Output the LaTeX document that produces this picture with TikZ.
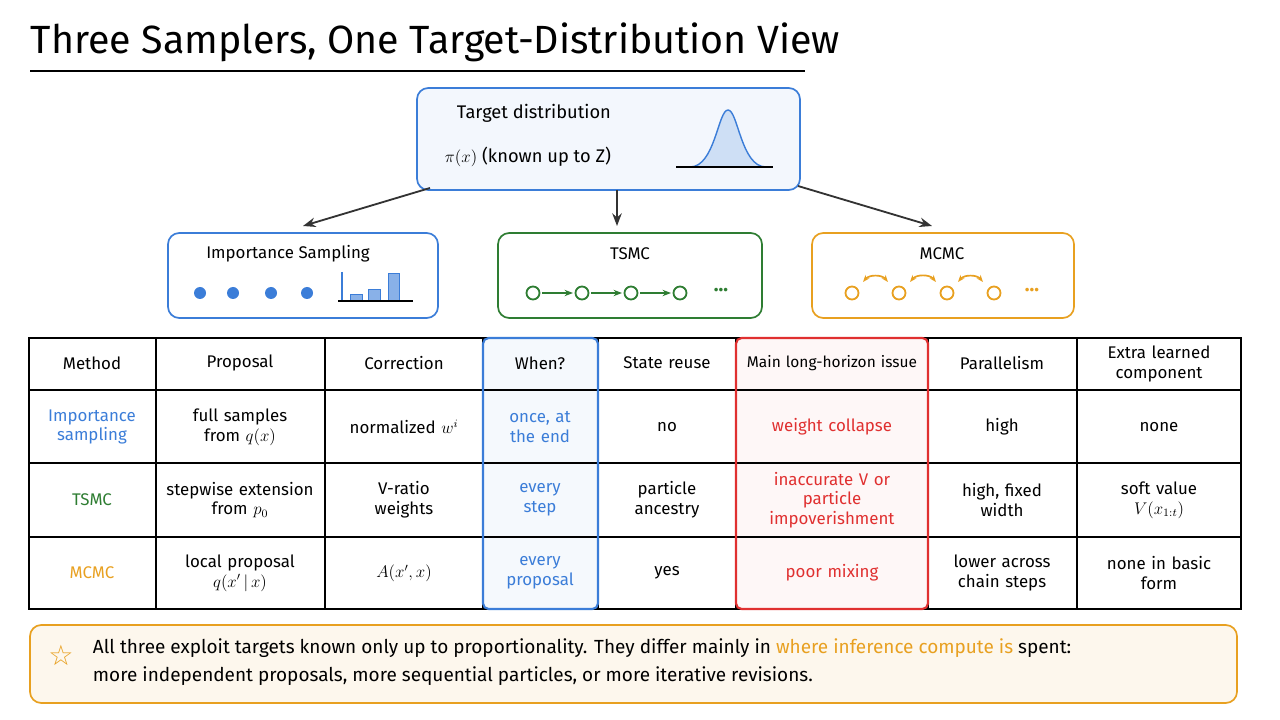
\documentclass[tikz,border=0pt]{standalone}
\usepackage{fontspec}
\setmainfont{Fira Sans}
\newfontfamily\symfont{DejaVu Sans}
\newfontfamily\titlefont{Fira Sans Medium}
\usetikzlibrary{arrows.meta,positioning}
\definecolor{isblue}{HTML}{3B7DD8}
\definecolor{tsgreen}{HTML}{2E7D32}
\definecolor{mcorange}{HTML}{E8A020}
\definecolor{issred}{HTML}{E03030}
\tikzset{
  box/.style={draw, rounded corners=8pt, line width=1.2pt},
  cell/.style={font=\fontsize{12}{14}\selectfont, align=center, text width=3.6cm},
  arr/.style={-{Stealth[length=9pt]}, line width=1.3pt, black!80},
}
\begin{document}
\begin{tikzpicture}[x=0.025cm,y=-0.025cm]
\useasboundingbox (0,0) rectangle (1280,720);

% Title
\node[anchor=west, font=\fontsize{28}{30}\selectfont] (title) at (26,42) {Three Samplers, One Target-Distribution View};
\draw[line width=1.8pt] (30,71) -- (805,71);

% Target box
\draw[box, draw=isblue, fill=isblue!6] (417,88) rectangle (800,190);
\node[anchor=west, font=\fontsize{13}{15}\selectfont] (tgt) at (452,113) {Target distribution};
\node[anchor=west, font=\fontsize{13}{15}\selectfont] (tgtpi) at (440,157) {$\pi(x)$ (known up to Z)};
\draw[isblue, line width=1pt, fill=isblue!25] (690,167) .. controls (715,167) and (718,110) .. (728,110) .. controls (738,110) and (741,167) .. (766,167) -- cycle;
\draw[line width=1.2pt] (676,167) -- (773,167);
\coordinate (tL) at (430,188);
\coordinate (tM) at (617,190);
\coordinate (tR) at (798,186);

% Three sampler boxes
\draw[box, draw=isblue] (168,233) rectangle (438,318);
\draw[box, draw=tsgreen] (498,233) rectangle (762,318);
\draw[box, draw=mcorange] (812,233) rectangle (1074,318);
\node[font=\fontsize{12}{14}\selectfont] (is) at (288,254) {Importance Sampling};
\node[font=\fontsize{12}{14}\selectfont] (ts) at (630,254) {TSMC};
\node[font=\fontsize{12}{14}\selectfont] (mc) at (942,254) {MCMC};
\coordinate (isT) at (303,226);
\coordinate (tsT) at (617,226);
\coordinate (mcT) at (932,226);
\draw[arr] (tL) -- (isT);
\draw[arr] (tM) -- (tsT);
\draw[arr] (tR) -- (mcT);

% IS glyphs
\foreach \x in {200,233,271,307} \fill[isblue] (\x,293) circle (6);
\draw[isblue, line width=0.8pt] (342,272) -- (342,301);
\draw[isblue, fill=isblue!60] (350,294) rectangle (362,301);
\draw[isblue, fill=isblue!60] (368,289) rectangle (380,301);
\draw[isblue, fill=isblue!60] (388,273) rectangle (399,301);
\draw[line width=1.2pt] (338,301) -- (413,301);

% TSMC chain
\foreach \x [count=\i] in {533,582,631,680} \draw[tsgreen, line width=1.3pt] (\x,293) circle (6.5) coordinate (g\i);
\foreach \a/\b in {533/582,582/631,631/680} \draw[tsgreen, line width=1.3pt, -{Stealth[length=6pt]}] (\a+9,293) -- (\b-9,293);
\node[tsgreen, font=\fontsize{14}{14}\selectfont\bfseries] (tsdots) at (721,290) {\textbf{...}};

% MCMC chain
\foreach \x in {852,899,947,994} \draw[mcorange, line width=1.3pt] (\x,293) circle (6.5);
\foreach \a/\b in {852/899,899/947,947/994} \draw[mcorange, line width=1.2pt, {Stealth[length=5pt]}-{Stealth[length=5pt]}] (\a+11,282) to[bend left=50] (\b-11,282);
\node[mcorange, font=\fontsize{14}{14}\selectfont] (mcdots) at (1032,290) {\textbf{...}};

% Table highlight fills
\fill[isblue!5, rounded corners=4pt] (483,338) rectangle (598,609);
\fill[issred!4, rounded corners=4pt] (736,338) rectangle (928,609);

% Table grid
\draw[line width=1pt] (29,338) rectangle (1241,609);
\foreach \y in {390,463,537} \draw[line width=0.8pt] (29,\y) -- (1241,\y);
\foreach \x in {156,325,483,598,736,928,1077} \draw[line width=0.8pt] (\x,338) -- (\x,609);

% Table highlight borders
\draw[isblue, line width=1.5pt, rounded corners=4pt] (483,338) rectangle (598,609);
\draw[issred, line width=1.5pt, rounded corners=4pt] (736,338) rectangle (928,609);

% Header row
\foreach \x/\t in {92/Method,240/Proposal,404/Correction,540/When?,667/State reuse,1002/Parallelism}
  \node[cell] at (\x,363) {\t};
\node[cell, text width=4.6cm, font=\fontsize{11}{13}\selectfont] at (832,363) {Main long-horizon issue};
\node[cell, text width=2.6cm] at (1159,364) {Extra learned\\component};

% Importance sampling row
\node[cell, isblue] at (92,427) {Importance\\sampling};
\node[cell] at (240,427) {full samples\\from $q(x)$};
\node[cell] at (404,427) {normalized $w^i$};
\node[cell, isblue, text width=2.5cm] at (540,427) {once, at\\the end};
\node[cell] at (667,427) {no};
\node[cell, issred] at (832,427) {weight collapse};
\node[cell] at (1002,427) {high};
\node[cell] at (1159,427) {none};

% TSMC row
\node[cell, tsgreen] at (92,500) {TSMC};
\node[cell, text width=4.2cm] at (240,500) {stepwise extension\\from $p_0$};
\node[cell] at (404,500) {V-ratio\\weights};
\node[cell, isblue] at (540,500) {every\\step};
\node[cell] at (667,500) {particle\\ancestry};
\node[cell, issred] at (832,500) {inaccurate V or\\particle\\impoverishment};
\node[cell] at (1002,500) {high, fixed\\width};
\node[cell] at (1159,500) {soft value\\$V(x_{1:t})$};

% MCMC row
\node[cell, mcorange] at (92,573) {MCMC};
\node[cell] at (240,573) {local proposal\\$q(x'\,|\,x)$};
\node[cell] at (404,573) {$A(x', x)$};
\node[cell, isblue] at (540,573) {every\\proposal};
\node[cell] at (667,573) {yes};
\node[cell, issred] at (832,573) {poor mixing};
\node[cell] at (1002,573) {lower across\\chain steps};
\node[cell] at (1159,573) {none in basic\\form};

% Footer
\draw[mcorange, fill=mcorange!8, line width=1.2pt, rounded corners=8pt] (30,625) rectangle (1237,703);
\node[mcorange, font=\symfont\fontsize{20}{20}\selectfont] (star) at (61,655) {☆};
\node[anchor=north west, align=left, font=\fontsize{13.5}{20}\selectfont] (foot) at (88,634)
  {All three exploit targets known only up to proportionality. They differ mainly in \textcolor{mcorange}{where inference compute is} spent:\\
   more independent proposals, more sequential particles, or more iterative revisions.};
\end{tikzpicture}
\end{document}
